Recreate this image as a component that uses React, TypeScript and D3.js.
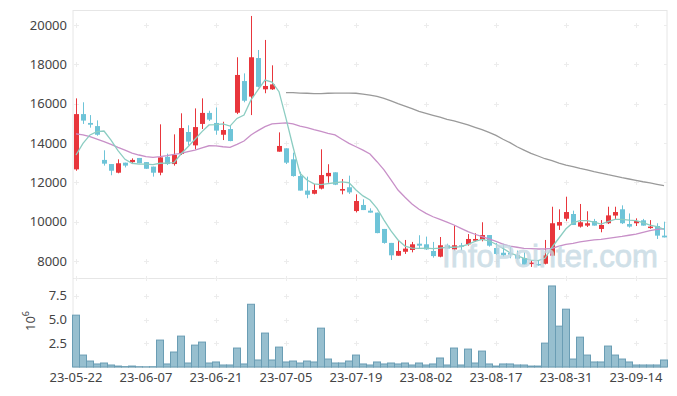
import { useEffect, useRef } from "react";
import * as d3 from "d3";

// trading days shown on the chart
const dates = [
  "23-05-22", "23-05-23", "23-05-24", "23-05-25", "23-05-26", "23-05-30", "23-05-31", "23-06-01", "23-06-02", "23-06-05",
  "23-06-07", "23-06-08", "23-06-09", "23-06-12", "23-06-13", "23-06-14", "23-06-15", "23-06-16", "23-06-19", "23-06-20",
  "23-06-21", "23-06-22", "23-06-23", "23-06-26", "23-06-27", "23-06-28", "23-06-29", "23-06-30", "23-07-03", "23-07-04",
  "23-07-05", "23-07-06", "23-07-07", "23-07-10", "23-07-11", "23-07-12", "23-07-13", "23-07-14", "23-07-17", "23-07-18",
  "23-07-19", "23-07-20", "23-07-21", "23-07-24", "23-07-25", "23-07-26", "23-07-27", "23-07-28", "23-07-31", "23-08-01",
  "23-08-02", "23-08-03", "23-08-04", "23-08-07", "23-08-08", "23-08-09", "23-08-10", "23-08-11", "23-08-14", "23-08-16",
  "23-08-17", "23-08-18", "23-08-21", "23-08-22", "23-08-23", "23-08-24", "23-08-25", "23-08-28", "23-08-29", "23-08-30",
  "23-08-31", "23-09-01", "23-09-04", "23-09-05", "23-09-06", "23-09-07", "23-09-08", "23-09-11", "23-09-12", "23-09-13",
  "23-09-14", "23-09-15", "23-09-18", "23-09-19", "23-09-20",
];

const open = [
  12660, 15470, 15020, 14860, 13140, 12930, 12490, 13000, 13030, 13240,
  13030, 12800, 12490, 13300, 12930, 13440, 14560, 13880, 14970, 15530,
  15020, 14420, 14710, 15540, 17150, 16360, 18320, 16730, 16730, 13560,
  13730, 13170, 12320, 11580, 11420, 11680, 12310, 12510, 11580, 11750,
  10540, 10850, 10560, 10460, 9630, 8920, 8270, 8470, 8560, 8880,
  8850, 8510, 8220, 8800, 8590, 8800, 8850, 9030, 9080, 9320,
  8660, 8420, 8420, 8310, 8150, 7880, 7850, 7860, 8270, 9800,
  10150, 10390, 9750, 9800, 10030, 9630, 9920, 10310, 10630, 9880,
  9920, 10070, 9680, 9780, 9290,
];
const high = [
  16270, 16070, 15420, 15150, 13630, 12930, 13170, 13000, 13220, 13240,
  13030, 12800, 14950, 13460, 14440, 15510, 14900, 15760, 16270, 15640,
  15810, 15080, 14900, 18360, 17540, 20460, 18730, 19240, 17950, 14540,
  13730, 13510, 12540, 12290, 11920, 13680, 12920, 12510, 12170, 12340,
  11390, 11140, 10680, 10460, 9630, 8920, 9070, 9070, 8970, 9310,
  9240, 8970, 9220, 8880, 9800, 8920, 9370, 9410, 9970, 9320,
  8920, 8880, 8730, 8530, 8440, 8030, 8000, 9070, 10760, 10630,
  11270, 10560, 10900, 10530, 10140, 10080, 10760, 10760, 10830, 10420,
  10170, 10140, 10080, 9920, 10000,
];
const low = [
  12590, 14970, 14780, 14370, 12850, 12360, 12460, 12760, 12930, 12970,
  12680, 12290, 12360, 12880, 12850, 13390, 13880, 13680, 14710, 15120,
  14420, 14150, 14090, 15470, 16070, 15420, 16830, 16530, 16700, 13560,
  12930, 12290, 11580, 11190, 11390, 11640, 11980, 11860, 11390, 11410,
  10470, 10590, 10460, 9410, 8880, 8050, 8270, 8360, 8440, 8640,
  8560, 8170, 8190, 8630, 8530, 8540, 8780, 8970, 9000, 8730,
  8310, 8220, 8140, 8080, 7810, 7700, 7760, 7830, 8240, 9580,
  10030, 9830, 9700, 9730, 9800, 9460, 9880, 10140, 9880, 9700,
  9780, 9800, 9640, 9120, 9200,
];
const close = [
  15470, 15140, 14930, 14420, 12950, 12590, 12970, 12850, 13140, 12970,
  12690, 12490, 13270, 12930, 13390, 14760, 14070, 14810, 15530, 15190,
  14630, 14660, 14100, 17460, 16150, 18360, 16860, 16900, 16980, 13850,
  13000, 12320, 11580, 11370, 11610, 12370, 12480, 11880, 11660, 11490,
  11050, 10590, 10460, 9420, 8920, 8290, 8510, 8630, 8850, 8780,
  8590, 8250, 8800, 8630, 8800, 8730, 9120, 9120, 9320, 8780,
  8360, 8290, 8320, 8120, 7810, 7920, 7810, 8290, 9920, 9980,
  10490, 9830, 9970, 9920, 9800, 9830, 10320, 10490, 9920, 9750,
  10030, 9800, 9750, 9290, 9200,
];

// volume in millions of shares
const volume = [
  5.47, 1.26, 0.63, 0.32, 0.42, 0.21, 0.1, 0.04, 0.1, 0.03,
  0.02, 0.03, 2.84, 0.32, 1.58, 3.26, 0.42, 2.31, 2.63, 0.42,
  0.53, 0.21, 0.21, 2.0, 0.32, 6.62, 0.74, 3.58, 0.74, 2.1,
  0.53, 0.63, 0.42, 0.63, 0.53, 4.1, 0.84, 0.42, 0.42, 0.63,
  1.26, 0.32, 0.21, 0.53, 0.32, 0.42, 0.32, 0.42, 0.21, 0.42,
  0.21, 0.32, 0.95, 0.21, 2.0, 0.21, 1.89, 0.42, 1.68, 0.32,
  0.1, 0.32, 0.32, 0.21, 0.21, 0.1, 0.1, 2.52, 8.55, 4.31,
  6.1, 0.84, 3.15, 1.26, 0.53, 0.53, 2.21, 1.26, 0.84, 0.53,
  0.21, 0.21, 0.21, 0.21, 0.74,
];

// moving averages as drawn on the chart
const ma5 = [
  13390, 13980, 14410, 14580, 14610, 14150, 13610, 13170, 12970, 12930,
  12930, 12900, 12970, 12980, 13000, 13440, 13810, 14190, 14580, 14920,
  14930, 14970, 14860, 15250, 15420, 16190, 16700, 17200, 17100, 16610,
  15250, 13810, 12460, 12120, 11920, 11880, 11930, 11980, 12020, 11980,
  11610, 11310, 11100, 10680, 10080, 9530, 9070, 8760, 8660, 8640,
  8660, 8630, 8660, 8700, 8700, 8730, 8850, 9000, 9100, 9030,
  8850, 8640, 8420, 8270, 8140, 8050, 8020, 8140, 8700, 9170,
  9640, 9950, 10050, 10050, 9980, 9880, 10000, 10120, 10120, 10080,
  10050, 9950, 9830, 9750, 9610,
];
const ma20 = [
  14460, 14410, 14320, 14200, 14070, 13930, 13780, 13640, 13490, 13390,
  13310, 13270, 13310, 13360, 13420, 13470, 13560, 13640, 13750, 13860,
  13850, 13810, 13780, 13930, 14100, 14410, 14630, 14830, 14970, 15000,
  15020, 14970, 14860, 14780, 14680, 14590, 14490, 14410, 14190, 13980,
  13810, 13640, 13440, 13050, 12630, 12120, 11610, 11240, 10900, 10630,
  10420, 10250, 10120, 9980, 9830, 9660, 9490, 9360, 9240, 9120,
  9000, 8860, 8760, 8700, 8640, 8630, 8610, 8610, 8640, 8760,
  8850, 8900, 8970, 9020, 9070, 9100, 9150, 9200, 9250, 9310,
  9370, 9460, 9540, 9610, 9640,
];
const ma60 = [
  null, null, null, null, null, null, null, null, null, null,
  null, null, null, null, null, null, null, null, null, null,
  null, null, null, null, null, null, null, null, null, null,
  16560, 16560, 16540, 16530, 16510, 16510, 16530, 16540, 16540, 16540,
  16530, 16490, 16440, 16370, 16270, 16140, 16000, 15880, 15750, 15610,
  15510, 15410, 15310, 15200, 15120, 15020, 14920, 14800, 14680, 14540,
  14390, 14190, 14020, 13810, 13640, 13470, 13340, 13200, 13100, 12980,
  12880, 12800, 12710, 12630, 12540, 12470, 12390, 12320, 12240, 12170,
  12100, 12030, 11970, 11900, 11830,
];

const priceTicks = [8000, 10000, 12000, 14000, 16000, 18000, 20000];
const volumeTicks = [2.5, 5.0, 7.5];
const labelEvery = 10;

const width = 677;
const height = 396;

export default function App() {
  const svgRef = useRef<SVGSVGElement>(null);

  useEffect(() => {
    const svg = d3.select(svgRef.current);
    svg.selectAll("*").remove();

    const left = 73;
    const right = 667;
    const priceTop = 10;
    const priceBottom = 278;
    const volBottom = 367;
    const font = "'Noto Sans', 'Open Sans', sans-serif";

    const x = d3
      .scaleBand()
      .domain(dates)
      .range([left - 0.5, right + 0.5])
      .padding(0);
    const cx = (i: number) => (x(dates[i]) as number) + x.bandwidth() / 2;

    const y = d3.scaleLinear().domain([7136, 20763]).range([priceBottom, priceTop]);
    const yv = d3.scaleLinear().domain([0, 9.39]).range([volBottom, priceBottom]);

    const tickIdx = dates.map((_, i) => i).filter((i) => i % labelEvery === 0);

    // frame
    const frame = svg.append("g").attr("stroke", "#e6e6e6").attr("stroke-width", 1);
    frame.append("line").attr("x1", left).attr("x2", left).attr("y1", priceTop).attr("y2", volBottom);
    frame.append("line").attr("x1", right).attr("x2", right).attr("y1", priceTop).attr("y2", volBottom);
    frame.append("line").attr("x1", left).attr("x2", right).attr("y1", priceTop + 0.5).attr("y2", priceTop + 0.5);
    frame.append("line").attr("x1", left).attr("x2", right).attr("y1", priceBottom + 0.5).attr("y2", priceBottom + 0.5);
    frame.append("line").attr("x1", left).attr("x2", right).attr("y1", volBottom + 0.5).attr("y2", volBottom + 0.5);

    // grid crosses
    const crossYs = [
      ...priceTicks.map((t) => y(t)),
      ...volumeTicks.map((t) => yv(t)),
      priceBottom,
    ];
    const cross = svg.append("g").attr("stroke", "#ececec").attr("stroke-width", 1);
    tickIdx.forEach((i) => {
      crossYs.forEach((cy) => {
        const px = Math.round(cx(i)) + 0.5;
        const py = Math.round(cy) + 0.5;
        cross.append("line").attr("x1", px - 2.5).attr("x2", px + 2.5).attr("y1", py).attr("y2", py);
        cross.append("line").attr("x1", px).attr("x2", px).attr("y1", py - 2.5).attr("y2", py + 2.5);
      });
    });
    [...priceTicks.map((t) => y(t)), ...volumeTicks.map((t) => yv(t))].forEach((cy) => {
      const py = Math.round(cy) + 0.5;
      cross.append("line").attr("x1", right - 3).attr("x2", right).attr("y1", py).attr("y2", py);
    });

    // volume bars
    svg
      .append("g")
      .selectAll("rect")
      .data(volume)
      .enter()
      .append("rect")
      .attr("x", (_, i) => (x(dates[i]) as number))
      .attr("y", (d) => yv(d))
      .attr("width", x.bandwidth())
      .attr("height", (d) => volBottom - yv(d))
      .attr("fill", "#97bfcf")
      .attr("stroke", "#6a9db4")
      .attr("stroke-width", 1);

    // candles
    const candles = svg
      .append("g")
      .selectAll("g")
      .data(dates.map((_, i) => i))
      .enter()
      .append("g");
    const col = (i: number) => (close[i] >= open[i] ? "#e8363c" : "#6ec4d8");
    candles
      .append("line")
      .attr("x1", (i) => Math.round(cx(i)) + 0.5)
      .attr("x2", (i) => Math.round(cx(i)) + 0.5)
      .attr("y1", (i) => y(high[i]))
      .attr("y2", (i) => y(low[i]))
      .attr("stroke", col)
      .attr("stroke-width", 1);
    candles
      .append("rect")
      .attr("x", (i) => Math.round(cx(i)) - 2)
      .attr("width", 5)
      .attr("y", (i) => y(Math.max(open[i], close[i])))
      .attr("height", (i) => Math.max(1.5, Math.abs(y(open[i]) - y(close[i]))))
      .attr("fill", col);

    // moving averages
    const line = d3
      .line<number | null>()
      .defined((d) => d != null)
      .x((_, i) => cx(i))
      .y((d) => y(d as number));
    const maSeries: [(number | null)[], string][] = [
      [ma60, "#9a9a9a"],
      [ma20, "#c890c8"],
      [ma5, "#8ccdc2"],
    ];
    maSeries.forEach(([data, color]) => {
      svg
        .append("path")
        .datum(data)
        .attr("fill", "none")
        .attr("stroke", color)
        .attr("stroke-width", 1.3)
        .attr("d", line);
    });

    // axis labels
    const labels = svg
      .append("g")
      .attr("font-family", font)
      .attr("font-size", 13)
      .attr("fill", "#444");
    priceTicks.forEach((t) => {
      labels
        .append("text")
        .attr("x", 67)
        .attr("y", y(t))
        .attr("dy", "0.35em")
        .attr("text-anchor", "end")
        .text(String(t));
    });
    volumeTicks.forEach((t) => {
      labels
        .append("text")
        .attr("x", 67)
        .attr("y", yv(t))
        .attr("dy", "0.35em")
        .attr("text-anchor", "end")
        .text(t.toFixed(1));
    });
    tickIdx.forEach((i) => {
      labels
        .append("text")
        .attr("x", cx(i))
        .attr("y", 382)
        .attr("text-anchor", "middle")
        .text(dates[i]);
    });

    const unit = labels
      .append("text")
      .attr("transform", "translate(35,321) rotate(-90)")
      .attr("text-anchor", "middle");
    unit.append("tspan").text("10");
    unit.append("tspan").attr("dy", -6).attr("font-size", 9).text("6");

    // watermark
    svg
      .append("text")
      .attr("x", 442)
      .attr("y", 267)
      .attr("font-family", "'Liberation Sans', Arial, sans-serif")
      .attr("font-size", 32)
      .attr("textLength", 216)
      .attr("lengthAdjust", "spacingAndGlyphs")
      .attr("fill", "#c5d9e3")
      .attr("stroke", "#c5d9e3")
      .attr("stroke-width", 0.8)
      .attr("opacity", 0.8)
      .text("InfoPointer.com");
  }, []);

  return (
    <svg
      ref={svgRef}
      width={width}
      height={height}
      style={{ position: "absolute", left: 0, top: 0, background: "#fff" }}
    ></svg>
  );
}
